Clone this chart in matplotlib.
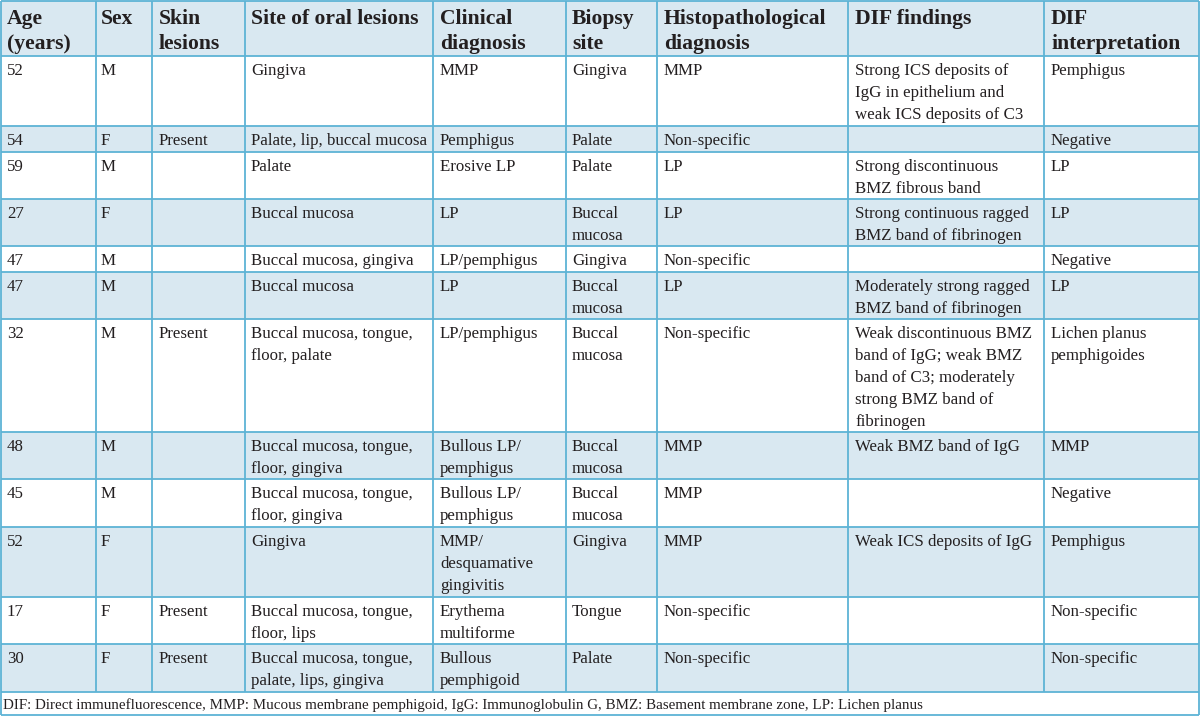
import matplotlib
matplotlib.use("Agg")
import matplotlib.pyplot as plt
from matplotlib.patches import Rectangle

# ---------------- data ----------------
headers = [
    ["Age", "(years)"], ["Sex"], ["Skin", "lesions"], ["Site of oral lesions"],
    ["Clinical", "diagnosis"], ["Biopsy", "site"], ["Histopathological", "diagnosis"],
    ["DIF findings"], ["DIF", "interpretation"],
]

ages = ["52", "54", "59", "27", "47", "47", "32", "48", "45", "52", "17", "30"]
sexes = ["M", "F", "M", "F", "M", "M", "M", "M", "M", "F", "F", "F"]
skin = ["", "Present", "", "", "", "", "Present", "", "", "", "Present", "Present"]
oral_sites = [
    ["Gingiva"], ["Palate, lip, buccal mucosa"], ["Palate"], ["Buccal mucosa"],
    ["Buccal mucosa, gingiva"], ["Buccal mucosa"],
    ["Buccal mucosa, tongue,", "floor, palate"],
    ["Buccal mucosa, tongue,", "floor, gingiva"],
    ["Buccal mucosa, tongue,", "floor, gingiva"],
    ["Gingiva"],
    ["Buccal mucosa, tongue,", "floor, lips"],
    ["Buccal mucosa, tongue,", "palate, lips, gingiva"],
]
clinical = [
    ["MMP"], ["Pemphigus"], ["Erosive LP"], ["LP"], ["LP/pemphigus"], ["LP"],
    ["LP/pemphigus"], ["Bullous LP/", "pemphigus"], ["Bullous LP/", "pemphigus"],
    ["MMP/", "desquamative", "gingivitis"], ["Erythema", "multiforme"],
    ["Bullous", "pemphigoid"],
]
biopsy = [
    ["Gingiva"], ["Palate"], ["Palate"], ["Buccal", "mucosa"], ["Gingiva"],
    ["Buccal", "mucosa"], ["Buccal", "mucosa"], ["Buccal", "mucosa"],
    ["Buccal", "mucosa"], ["Gingiva"], ["Tongue"], ["Palate"],
]
histo = ["MMP", "Non-specific", "LP", "LP", "Non-specific", "LP", "Non-specific",
         "MMP", "MMP", "MMP", "Non-specific", "Non-specific"]
dif_findings = [
    ["Strong ICS deposits of", "IgG in epithelium and", "weak ICS deposits of C3"],
    [],
    ["Strong discontinuous", "BMZ fibrous band"],
    ["Strong continuous ragged", "BMZ band of fibrinogen"],
    [],
    ["Moderately strong ragged", "BMZ band of fibrinogen"],
    ["Weak discontinuous BMZ", "band of IgG; weak BMZ", "band of C3; moderately",
     "strong BMZ band of", "fibrinogen"],
    ["Weak BMZ band of IgG"],
    [],
    ["Weak ICS deposits of IgG"],
    [],
    [],
]
dif_interp = [
    ["Pemphigus"], ["Negative"], ["LP"], ["LP"], ["Negative"], ["LP"],
    ["Lichen planus", "pemphigoides"], ["MMP"], ["Negative"], ["Pemphigus"],
    ["Non-specific"], ["Non-specific"],
]
footnote = ("DIF: Direct immunefluorescence, MMP: Mucous membrane pemphigoid, "
            "IgG: Immunoglobulin G, BMZ: Basement membrane zone, LP: Lichen planus")

# ---------------- layout ----------------
W, H = 1200, 716
col_edges = [1, 96, 152, 245, 433, 566, 657, 848, 1044, 1199]
row_edges = [1, 56, 126, 152, 199, 246, 272, 319, 432, 479, 527, 597, 644, 692, 715]

shade = "#d9e8f1"
line_c = "#5db3d5"
text_c = "#231f20"
font = "Liberation Serif"
body_size = 12.2
head_size = 15.6
line_h = 22.0

fig = plt.figure(figsize=(W / 100, H / 100), dpi=100)
ax = fig.add_axes([0, 0, 1, 1])
ax.set_xlim(0, W)
ax.set_ylim(H, 0)
ax.axis("off")

n_rows = len(ages)
# shading: header + alternate rows
for r in range(n_rows + 1):
    if r % 2 == 0:
        y0, y1 = row_edges[r], row_edges[r + 1]
        ax.add_patch(Rectangle((col_edges[0], y0), col_edges[-1] - col_edges[0], y1 - y0,
                               facecolor=shade, edgecolor="none", zorder=0))

# grid lines
for r, y in enumerate(row_edges):
    ax.plot([col_edges[0], col_edges[-1]], [y, y], color=line_c, lw=1.3, zorder=2,
            solid_capstyle="butt")
table_bottom = row_edges[-2]
for i, x in enumerate(col_edges):
    yb = row_edges[-1] if i in (0, len(col_edges) - 1) else table_bottom
    ax.plot([x, x], [row_edges[0], yb], color=line_c, lw=1.3, zorder=2,
            solid_capstyle="butt")

pads = [6, 5, 7, 6, 7, 6, 7, 7, 7]

def put(lines, c, top, base_off, dy, size, weight):
    for k, t in enumerate(lines):
        ax.text(col_edges[c] + pads[c], top + base_off + k * dy, t, fontsize=size,
                fontweight=weight, family=font, color=text_c, va="baseline",
                ha="left", zorder=3)

# header
for c, h in enumerate(headers):
    put(h, c, row_edges[0], 23, 25, head_size, "bold")

# body
for r in range(n_rows):
    top = row_edges[r + 1]
    cells = [[ages[r]], [sexes[r]], [skin[r]] if skin[r] else [], oral_sites[r],
             clinical[r], biopsy[r], [histo[r]], dif_findings[r], dif_interp[r]]
    for c, cell in enumerate(cells):
        put(cell, c, top, 19, line_h, body_size, "normal")

ax.text(3, row_edges[-2] + 17, footnote, fontsize=10.8, family=font, color=text_c,
        va="baseline", ha="left", zorder=3)

fig.savefig("out.png", dpi=100)
